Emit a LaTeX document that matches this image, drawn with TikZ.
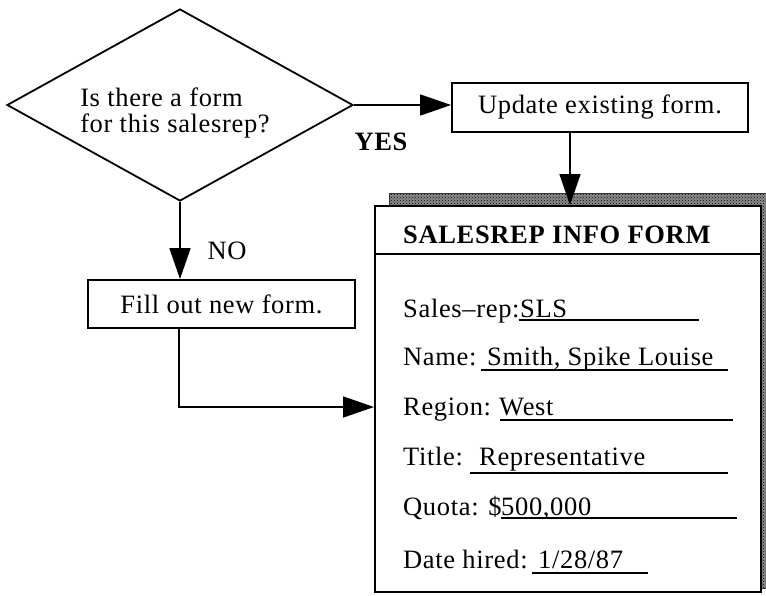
\documentclass[tikz,border=0pt]{standalone}
\usepackage{fontspec}
\setmainfont{Liberation Serif}[LetterSpace=2.5]
\usepackage{tikz}
\usetikzlibrary{shapes.geometric, arrows.meta, positioning, calc, patterns}
\newcommand{\formfont}{\fontsize{26.5}{26}\selectfont}

\begin{document}
\begin{tikzpicture}[x=1pt, y=-1pt, font=\formfont,
					box/.style={draw=black, line width=1.8pt, fill=white, inner sep=0pt},
					arrow/.style={line width=1.6pt, -{Triangle[length=31pt, width=21pt]}},
					field/.style={anchor=base west, inner sep=0pt},
					fieldline/.style={line width=1.5pt}]
					\useasboundingbox (0,0) rectangle (766,595);
					% decision and the two actions
					\node[box, diamond, aspect=1.8, minimum width=346pt, minimum height=192pt] (ask) at (180,105) {};
					\node[align=left] (asktext) at (175,113) {Is there a form\\ for this salesrep?};
					\node[box, minimum width=296pt, minimum height=49pt] (upd) at (600,107.5) {Update existing form.};
					\node[box, minimum width=267pt, minimum height=48pt] (new) at (221.5,304) {Fill out new form.};
					% the form, with the pad behind it
					\fill[black!45] (389,193) rectangle (766,588);
					\draw[draw=black!80, line width=0.8pt, pattern=crosshatch dots, pattern color=black] (389,193) rectangle (766,588);
					\node[box, line width=2pt, minimum width=386pt, minimum height=386pt] (form) at (568,399) {};
					\draw[line width=1.8pt] ([yshift=-49pt]form.north west) -- ([yshift=-49pt]form.north east);
					\node[field, font=\formfont\bfseries] (head) at (403,243) {SALESREP INFO FORM};
					\foreach \fname/\flabel/\fval/\fy/\fvx/\fa/\fb/\fu in {rep/{Sales--rep:}/SLS/317/520/519/699/320,
							name/{Name:}/{Smith, Spike Louise}/365/487/481/728/370,
							region/{Region:}/West/415/499/500/733/420,
							title/{Title:}/Representative/465/479/470/728/473,
							quota/{Quota: \$}/{500,000}/515/501/501/737/518,
							hired/{Date hired:}/{1/28/87}/568/538/532/648/573}{
						\node[field] (\fname-l) at (403,\fy) {\flabel};
						\node[field] (\fname-v) at (\fvx,\fy) {\fval};
						\draw[fieldline] (\fa,\fu) -- (\fb,\fu);
					}
					% connectors
					\draw[arrow] (ask.east) -- (ask.east -| upd.west);
					\node[font=\formfont\bfseries] (yes) at (381,142) {YES};
					\draw[arrow] (ask.south) -- (ask.south |- new.north);
					\node (no) at (227,251) {NO};
					\draw[arrow] ([xshift=-30pt]upd.south) -- ([xshift=-30pt]upd.south |- form.north);
					\draw[arrow] ([xshift=-42.5pt]new.south) |- ([yshift=-8pt]form.west);
				\end{tikzpicture}
\end{document}
